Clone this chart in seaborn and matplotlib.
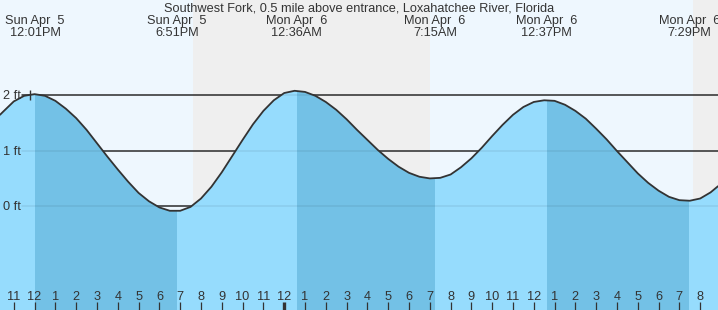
import matplotlib
matplotlib.use("Agg")
import matplotlib.pyplot as plt
import matplotlib.transforms as mtransforms
import pandas as pd
import seaborn as sns

# ---------------- data ----------------
title = "Southwest Fork, 0.5 mile above entrance, Loxahatchee River, Florida"

# hours since Sun Apr 5 00:00, tide height in ft
hours = [10.337, 10.5, 11.0, 11.5, 12.0, 12.5, 13.0, 13.5, 14.0, 14.5, 15.0,
         15.5, 16.0, 16.5, 17.0, 17.5, 18.0, 18.5, 19.0, 19.5, 20.0, 20.5,
         21.0, 21.5, 22.0, 22.5, 23.0, 23.5, 24.0, 24.5, 25.0, 25.5, 26.0,
         26.5, 27.0, 27.5, 28.0, 28.5, 29.0, 29.5, 30.0, 30.5, 31.0, 31.5,
         32.0, 32.5, 33.0, 33.5, 34.0, 34.5, 35.0, 35.5, 36.0, 36.5, 37.0,
         37.5, 38.0, 38.5, 39.0, 39.5, 40.0, 40.5, 41.0, 41.5, 42.0, 42.5,
         43.0, 43.5, 44.0, 44.5, 44.856]
heights = [1.64, 1.70, 1.88, 1.98, 2.01, 1.98, 1.89, 1.75, 1.58, 1.37, 1.13,
           0.89, 0.66, 0.44, 0.24, 0.09, -0.02, -0.08, -0.08, -0.01, 0.14, 0.35,
           0.61, 0.90, 1.19, 1.47, 1.71, 1.90, 2.03, 2.07, 2.05, 1.98, 1.87,
           1.73, 1.56, 1.37, 1.19, 1.01, 0.85, 0.71, 0.60, 0.53, 0.50, 0.51,
           0.57, 0.70, 0.86, 1.05, 1.26, 1.46, 1.64, 1.78, 1.87, 1.90, 1.89,
           1.82, 1.71, 1.57, 1.39, 1.20, 0.99, 0.79, 0.59, 0.42, 0.28, 0.17,
           0.11, 0.10, 0.14, 0.25, 0.36]

ext_times = [12.017, 18.85, 24.6, 31.25, 36.617, 43.483]
ext_types = ["H", "L", "H", "L", "H", "L"]
ext_days = ["Sun Apr  5", "Sun Apr  5", "Mon Apr  6", "Mon Apr  6",
            "Mon Apr  6", "Mon Apr  6"]
ext_clocks = ["12:01PM", "6:51PM", "12:36AM", "7:15AM", "12:37PM", "7:29PM"]

night_starts = [19.615, 43.65]
night_ends = [31.03, 44.856]

level_values = [0, 1, 2]
level_labels = ["0 ft", "1 ft", "2 ft"]

hour_ticks = list(range(11, 45))
hour_labels = ["11", "12", "1", "2", "3", "4", "5", "6", "7", "8", "9", "10",
               "11", "12", "1", "2", "3", "4", "5", "6", "7", "8", "9", "10",
               "11", "12", "1", "2", "3", "4", "5", "6", "7", "8"]
midnight_hour = 24
now_hour = 11.78
now_height = 2.0

# ---------------- styling ----------------
W, H = 718, 310
X_MIN, X_MAX = 10.337, 44.856
Y_MIN, Y_MAX = -1.858, 3.697
DAY = "#EEF7FE"
NIGHT = "#EFEFEF"
LIGHT = "#96DCFD"
DARK = "#73C1E6"
INK = "#333333"
FS = 9.2

sns.set_theme(style="white")
plt.rcParams["font.family"] = ["Liberation Sans", "DejaVu Sans"]

fig = plt.figure(figsize=(W / 100, H / 100), dpi=100)
ax = fig.add_axes([0, 0, 1, 1])
ax.set_xlim(X_MIN, X_MAX)
ax.set_ylim(Y_MIN, Y_MAX)
ax.set_facecolor(DAY)
ax.set_axisbelow(False)
for s in ax.spines.values():
    s.set_visible(False)

for a, b in zip(night_starts, night_ends):
    ax.axvspan(a, b, color=NIGHT, lw=0, zorder=0.5)

# level lines (dark above water)
for lv in level_values:
    ax.axhline(lv, xmin=21.5 / W, color=INK, lw=1.1, zorder=1.5)

df = pd.DataFrame({"hour": hours, "height": heights})
poly = ax.fill_between(df["hour"], df["height"], Y_MIN, color=LIGHT, lw=0, zorder=2)
clip = poly.get_paths()[0]

# ebb (falling) periods shaded darker
for i in range(len(ext_times) - 1):
    if ext_types[i] == "H":
        sp = ax.axvspan(ext_times[i], ext_times[i + 1], color=DARK, lw=0, zorder=2.1)
        sp.set_clip_path(clip, ax.transData)

# faint level lines inside water
for lv in level_values:
    ax.axhline(lv, xmin=21.5 / W, color="black", alpha=0.07, lw=1.1, zorder=2.5)

sns.lineplot(data=df, x="hour", y="height", ax=ax, color=INK, lw=1.3,
             zorder=3, legend=False)
ax.plot([now_hour], [now_height], marker="|", ms=7.5, mew=1.0, color=INK, zorder=3)

# level labels
blend_y = mtransforms.blended_transform_factory(ax.transAxes, ax.transData)
for lv, lab in zip(level_values, level_labels):
    ax.annotate(lab, xy=(3 / W, lv), xycoords=blend_y, xytext=(0, -3.0),
                textcoords="offset points", ha="left", va="baseline",
                fontsize=FS, color=INK, zorder=4)

# title and extreme labels
ax.text(0.5, 1 - 11.3 / H, title, transform=ax.transAxes, ha="center",
        va="baseline", fontsize=FS, color=INK)
blend_x = mtransforms.blended_transform_factory(ax.transData, ax.transAxes)
for t, d, c in zip(ext_times, ext_days, ext_clocks):
    ax.text(t, 1 - 24.0 / H, d, transform=blend_x, ha="center", va="baseline",
            fontsize=FS, color=INK)
    ax.text(t, 1 - 36.0 / H, c, transform=blend_x, ha="center", va="baseline",
            fontsize=FS, color=INK)

# hour ticks inside the bottom
ax.set_xticks(hour_ticks)
ax.set_xticklabels(hour_labels)
ax.set_yticks([])
ax.tick_params(axis="x", direction="in", length=5.8, width=0.9, color=INK,
               labelsize=FS, labelcolor=INK, pad=-13.8, bottom=True)
for tk, hv in zip(ax.xaxis.get_major_ticks(), hour_ticks):
    if hv == midnight_hour:
        tk.tick1line.set_markeredgewidth(2.4)
ax.xaxis.set_zorder(5)
ax.set_xlabel("")
ax.set_ylabel("")
ax.grid(False)

fig.savefig("out.png", dpi=100)
